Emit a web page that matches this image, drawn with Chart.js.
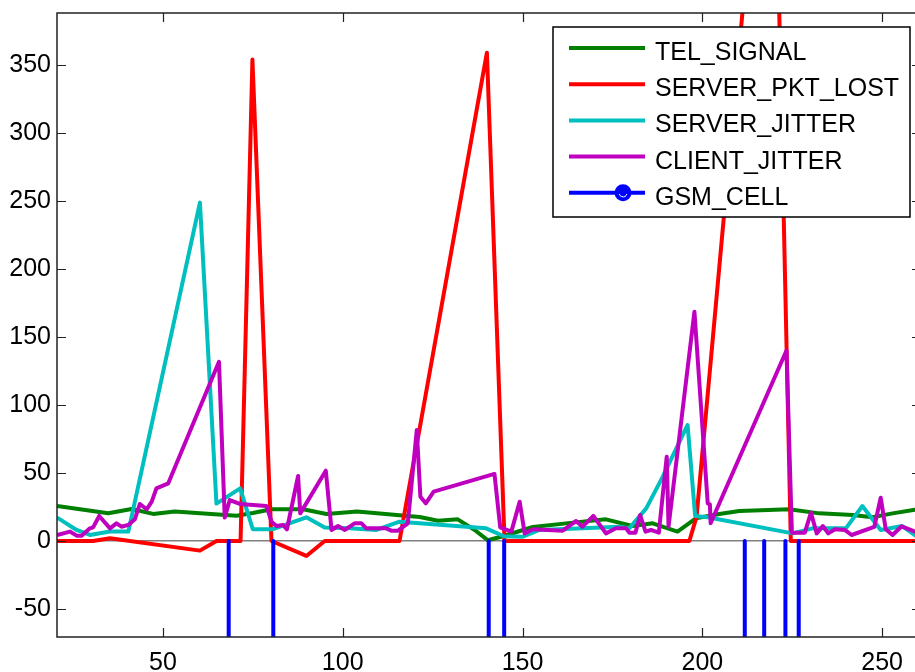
<!DOCTYPE html>
<html>
<head>
<meta charset="utf-8">
<script src="https://cdn.jsdelivr.net/npm/chart.js@4.4.1/dist/chart.umd.min.js"></script>
<style>
  html, body { margin: 0; padding: 0; background: #fff; overflow: hidden; }
  #wrap { width: 915px; height: 672px; overflow: hidden; }
</style>
</head>
<body>
<div id="wrap"><canvas id="chart" width="930" height="672"></canvas></div>
<script>
// series (x = sample index, y = value)
const telX = [20.6, 34.8, 41.3, 47.3, 53.3, 70.5, 75, 80.2, 89, 95.5, 104, 115.8, 121.4, 126.5, 132, 136.7, 140.4, 144.5, 152.9, 164, 173.2, 180.6, 186.2, 193.1, 198.2, 204.7, 210.3, 224.2, 232.5, 241.8, 247.3, 252.9, 259.5];
const telY = [25.7, 20.4, 23.5, 19.9, 21.6, 18.6, 20.6, 23.3, 23.3, 19.9, 21.6, 19, 17.6, 14.9, 15.9, 8.1, 0.5, 3.5, 10.3, 13.5, 15.9, 11, 13, 6.9, 16.7, 19.9, 22, 23.3, 20.3, 19.1, 17.4, 20.3, 23.2];

const lostX = [20.6, 30.6, 35.3, 60.3, 64.9, 71.6, 74.9, 80.2, 89.9, 95, 115.8, 140.1, 145, 196.4, 198.4, 219.4, 224.6, 259.5];
const lostY = [0, 0, 2, -7.1, 0, 0, 354, 0, -11, 0, 0, 359, 0, 0, 17.9, 628, 0, 0];

const srvJitX = [20.6, 26, 29.7, 35.3, 40.4, 60.3, 64.9, 71.5, 75, 80.4, 89.9, 95, 102, 109.4, 115.8, 139.9, 144.8, 150.1, 154.7, 176.9, 179.7, 184.4, 189, 195.9, 198, 201.5, 225.1, 230.6, 239.9, 244.5, 249.6, 255.6, 259.5];
const srvJitY = [17.2, 8.1, 4.4, 6.9, 6.9, 248.8, 27.5, 38.7, 8.6, 8.6, 17.4, 10, 9.3, 8.1, 14.2, 9.3, 3.5, 3.2, 8.1, 10.5, 9.3, 24, 47.3, 85.3, 18.4, 17.4, 5.6, 9.3, 9.3, 25.7, 8.1, 11, 3.5];

const cliJitX = [20.6, 24.2, 26, 27.4, 29.7, 30.6, 32.3, 35.3, 37.1, 38.5, 40.4, 42.2, 43.6, 45.5, 46.9, 48.2, 51.5, 65.6, 67.2, 68.6, 71.4, 78.8, 80.2, 81.6, 83.4, 84.5, 87.6, 88.2, 95.3, 96.9, 98.7, 100.6, 103.3, 105.2, 106.6, 112.1, 113.5, 115.4, 118.1, 120.6, 121.6, 123.1, 125.3, 142.2, 143.8, 146.9, 149.2, 150.6, 152.9, 161.2, 164.9, 166.7, 169.7, 173.2, 176, 178.8, 179.7, 181.4, 182.7, 184.2, 185.7, 187.9, 190.1, 190.6, 197.8, 201.5, 202.1, 202.3, 223.4, 224.9, 228.5, 230.2, 231.8, 233.5, 235, 236.9, 239.6, 241.5, 247.8, 249.6, 251, 252.9, 255.4, 259.5];
const cliJitY = [4.4, 6.9, 3.9, 3.9, 9.3, 10, 18.4, 9.3, 13, 10.5, 11.8, 15.9, 27.2, 23.3, 28.9, 38.7, 42.4, 131.8, 17.2, 30.1, 27.2, 25.7, 14.2, 11, 11.8, 8.6, 47.8, 20.3, 51.7, 8.1, 11, 8.1, 13, 13, 9.3, 9.3, 7.6, 7.6, 13, 81.6, 32.6, 27.7, 36.3, 49.3, 10, 6.9, 28.9, 5.6, 8.6, 7.6, 14.7, 10.5, 18.4, 5.6, 9.3, 9.3, 6.1, 6.1, 19.1, 6.9, 8.1, 6.1, 62, 10.5, 168.6, 27.7, 27, 13, 140, 6.1, 6.1, 20.8, 5.6, 11, 5.6, 8.6, 8.1, 4.4, 10.3, 31.8, 8.6, 4.4, 10.8, 6.5];

// stems go below the visible range
const gsmX = [68.3, 80.7, 140.6, 144.9, 211.8, 217.2, 223.1, 226.8];
const gsmY = [-100, -100, -100, -100, -100, -100, -100, -100];

const xTicks = [50, 100, 150, 200, 250];
const yTicks = [-50, 0, 50, 100, 150, 200, 250, 300, 350];

const FONT = '"Liberation Sans", Arial, sans-serif';

function toPoints(xs, ys) {
    return xs.map((x, i) => ({ x: x, y: ys[i] }));
}

function stemPoints(xs, ys) {
    let pts = [];
    xs.forEach((x, i) => {
        pts.push({ x: x, y: 0 });
        pts.push({ x: x, y: ys[i] });
        pts.push({ x: x, y: null });
    });
    return pts;
}

const series = [
    { label: 'TEL_SIGNAL', color: '#008000', data: toPoints(telX, telY), order: 5 },
    { label: 'SERVER_PKT_LOST', color: '#ff0000', data: toPoints(lostX, lostY), order: 4 },
    { label: 'SERVER_JITTER', color: '#00bfbf', data: toPoints(srvJitX, srvJitY), order: 3 },
    { label: 'CLIENT_JITTER', color: '#bf00bf', data: toPoints(cliJitX, cliJitY), order: 2 },
    { label: 'GSM_CELL', color: '#0000ff', data: stemPoints(gsmX, gsmY), order: 1, marker: true }
];

// axis frame with inward tick marks
const framePlugin = {
    id: 'frame',
    afterDatasetsDraw(chart) {
        const c = chart.ctx;
        const a = chart.chartArea;
        const xs = chart.scales.x;
        const ys = chart.scales.y;
        c.save();
        c.strokeStyle = '#222';
        c.lineWidth = 1.5;
        c.strokeRect(a.left, a.top, a.right - a.left, a.bottom - a.top);
        c.lineWidth = 1.2;
        c.beginPath();
        xTicks.forEach(v => {
            const p = Math.round(xs.getPixelForValue(v)) + 0.5;
            c.moveTo(p, a.bottom); c.lineTo(p, a.bottom - 9);
            c.moveTo(p, a.top); c.lineTo(p, a.top + 9);
        });
        yTicks.forEach(v => {
            const p = Math.round(ys.getPixelForValue(v)) + 0.5;
            c.moveTo(a.left, p); c.lineTo(a.left + 9, p);
            c.moveTo(a.right, p); c.lineTo(a.right - 9, p);
        });
        c.stroke();
        c.restore();
    }
};

// boxed legend in the top right corner, like the original
const legendPlugin = {
    id: 'boxLegend',
    afterDraw(chart) {
        const c = chart.ctx;
        const left = 553, top = 27, w = 357, h = 190;
        c.save();
        c.fillStyle = '#fff';
        c.fillRect(left, top, w, h);
        c.strokeStyle = '#000';
        c.lineWidth = 1.5;
        c.strokeRect(left, top, w, h);
        c.font = '25px ' + FONT;
        c.textBaseline = 'alphabetic';
        c.textAlign = 'left';
        series.forEach((s, i) => {
            const y = 48 + i * 36.2;
            c.strokeStyle = s.color;
            c.lineWidth = 4;
            c.beginPath();
            c.moveTo(569, y);
            c.lineTo(645, y);
            c.stroke();
            if (s.marker) {
                c.fillStyle = s.color;
                c.beginPath();
                c.arc(623, y, 8.5, 0, Math.PI * 2);
                c.fill();
                c.strokeStyle = '#fff';
                c.lineWidth = 1;
                c.beginPath();
                c.arc(623, y, 4, 0.1 * Math.PI, 0.9 * Math.PI);
                c.stroke();
            }
            c.fillStyle = '#000';
            c.fillText(s.label, 655, y + 12);
        });
        c.restore();
    }
};

const ctx = document.getElementById('chart').getContext('2d');
const chart = new Chart(ctx, {
    type: 'line',
    data: {
        datasets: series.map(s => ({
            label: s.label,
            data: s.data,
            borderColor: s.color,
            backgroundColor: s.color,
            borderWidth: 4,
            borderJoinStyle: 'round',
            borderCapStyle: 'butt',
            pointRadius: 0,
            tension: 0,
            spanGaps: false,
            fill: false,
            clip: 0,
            order: s.order
        }))
    },
    options: {
        responsive: false,
        animation: false,
        devicePixelRatio: 1,
        layout: { padding: { left: 0, top: 13, right: 9, bottom: 0 } },
        plugins: {
            legend: { display: false },
            tooltip: { enabled: false }
        },
        scales: {
            x: {
                type: 'linear',
                min: 20.56,
                max: 260.8,
                border: { display: false },
                grid: { display: false, drawTicks: false },
                ticks: {
                    padding: 11,
                    color: '#000',
                    font: { family: FONT, size: 25 },
                    maxRotation: 0
                },
                afterBuildTicks(scale) {
                    scale.ticks = xTicks.map(v => ({ value: v }));
                },
                afterFit(scale) {
                    scale.height = 35;
                    scale.paddingLeft = 0;
                    scale.paddingRight = 0;
                }
            },
            y: {
                type: 'linear',
                min: -70.6,
                max: 388.2,
                border: { display: false },
                grid: {
                    drawTicks: false,
                    lineWidth: 1.5,
                    color: c => (c.tick && c.tick.value === 0) ? '#808080' : 'rgba(0,0,0,0)'
                },
                ticks: {
                    padding: 6,
                    color: '#000',
                    font: { family: FONT, size: 25 }
                },
                afterBuildTicks(scale) {
                    scale.ticks = yTicks.map(v => ({ value: v }));
                },
                afterFit(scale) {
                    scale.width = 57;
                    scale.paddingTop = 0;
                    scale.paddingBottom = 0;
                }
            }
        }
    },
    plugins: [framePlugin, legendPlugin]
});
</script>
</body>
</html>
